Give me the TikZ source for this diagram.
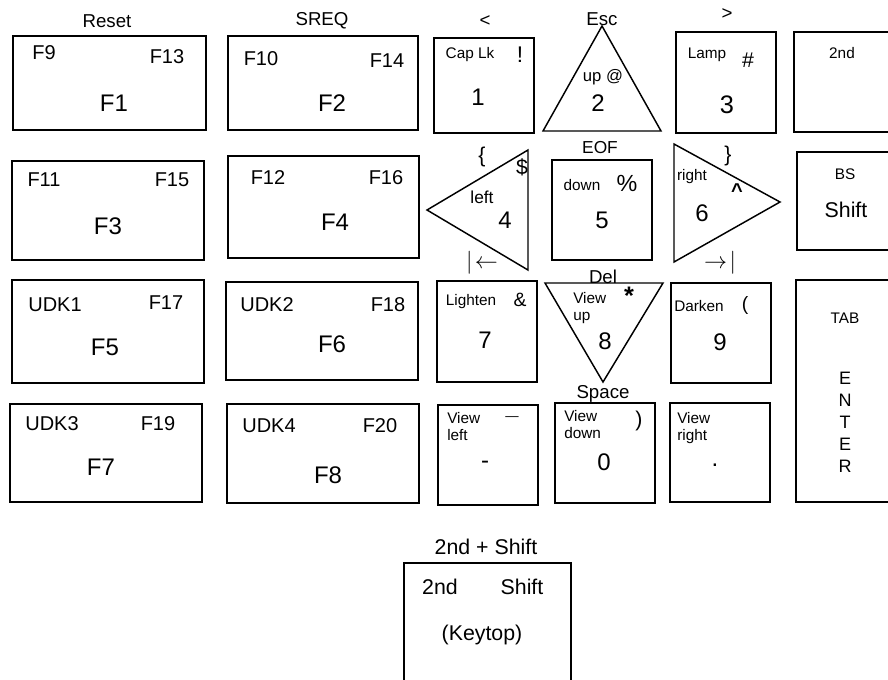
\documentclass[tikz,border=0pt]{standalone}
\usepackage{fontspec}
\setmainfont{Liberation Sans}
\usepackage{tikz}
\usetikzlibrary{fit}

\newcommand{\fsz}[1]{\fontsize{#1}{#1}\selectfont}

\begin{document}
\begin{tikzpicture}[
    x=0.75pt, y=-0.75pt,
    keybox/.style={
        draw,
        line width=1.1pt,
        inner sep=0pt
    },
    tri/.style={
        draw,
        line width=1.1pt
    },
    hint/.style={inner sep=0pt, font=\fsz{14}},
    flbl/.style={inner sep=0pt, font=\fsz{15}},
    keylbl/.style={inner sep=0pt, font=\fsz{18}},
    sublbl/.style={inner sep=0pt, font=\fsz{11.5}},
    symlbl/.style={inner sep=0pt, font=\fsz{16}},
    comblbl/.style={inner sep=0pt, font=\fsz{16}},
    enterlbl/.style={inner sep=0pt, font=\fsz{13.5}},
    twolbl/.style={
        inner sep=0pt,
        anchor=west,
        align=left,
        font=\fontsize{11.5}{12.75}\selectfont
    }
]

\clip (0,0) rectangle (888,679);

\node[keybox, fit={(13,36) (206,130)}] (f1) {};
\node[keybox, fit={(228,36) (418,130)}] (f2) {};
\node[keybox, fit={(12,161) (204,260)}] (f3) {};
\node[keybox, fit={(228,156) (419,258)}] (f4) {};
\node[keybox, fit={(12,280) (204,383)}] (f5) {};
\node[keybox, fit={(226,282) (418,380)}] (f6) {};
\node[keybox, fit={(10,404) (202,502)}] (f7) {};
\node[keybox, fit={(227,404) (419,503)}] (f8) {};

\node[keybox, fit={(434,38) (534,133)}] (k1) {};
\node[keybox, fit={(676,32) (776,133)}] (k3) {};
\node[keybox, fit={(794,32) (900,132)}] (ksecond) {};
\node[keybox, fit={(552,160) (652,260)}] (k5) {};
\node[keybox, fit={(797,152) (900,250)}] (kshift) {};
\node[keybox, fit={(437,281) (537,382)}] (k7) {};
\node[keybox, fit={(671,283) (771,383)}] (k9) {};
\node[keybox, fit={(796,280) (900,502)}] (kenter) {};
\node[keybox, fit={(438,405) (538,505)}] (kminus) {};
\node[keybox, fit={(555,403) (655,503)}] (k0) {};
\node[keybox, fit={(670,403) (770,502)}] (kdot) {};
\node[keybox, fit={(404,563) (571,700)}] (kcomb) {};

\draw[tri] (602,26) -- (543,131) -- (661,131) -- cycle;
\draw[tri] (427,210) -- (528,150) -- (528,270) -- cycle;
\draw[tri] (674,144) -- (780,202) -- (674,262) -- cycle;
\draw[tri] (545,283) -- (663,283) -- (603,382) -- cycle;

\node[hint] (reset) at (107,21) {Reset};
\node[hint] (sreq) at (322,21) {SREQ};
\node[flbl] (f9) at (44,53) {F9};
\node[flbl] (f13) at (167,57) {F13};
\node[keylbl] (f1lbl) at (114,103) {F1};
\node[flbl] (f10) at (261,59) {F10};
\node[flbl] (f14) at (387,61) {F14};
\node[keylbl] (f2lbl) at (332,103) {F2};

\node[flbl] (f11) at (44,180) {F11};
\node[flbl] (f15) at (172,180) {F15};
\node[keylbl] (f3lbl) at (108,226) {F3};
\node[flbl] (f12) at (268,178) {F12};
\node[flbl] (f16) at (386,178) {F16};
\node[keylbl] (f4lbl) at (335,222) {F4};

\node[flbl] (udk1) at (55,305) {UDK1};
\node[flbl] (f17) at (166,303) {F17};
\node[keylbl] (f5lbl) at (105,347) {F5};
\node[flbl] (udk2) at (267,305) {UDK2};
\node[flbl] (f18) at (388,305) {F18};
\node[keylbl] (f6lbl) at (332,344) {F6};

\node[flbl] (udk3) at (52,424) {UDK3};
\node[flbl] (f19) at (158,424) {F19};
\node[keylbl] (f7lbl) at (101,467) {F7};
\node[flbl] (udk4) at (269,426) {UDK4};
\node[flbl] (f20) at (380,426) {F20};
\node[keylbl] (f8lbl) at (328,475) {F8};

\node[hint] (less) at (485,21) {<};
\node[sublbl] (caplk) at (470,55) {Cap Lk};
\node[symlbl, font=\fsz{17}] (excl) at (520,55) {!};
\node[keylbl] (one) at (478,97) {1};
\node[hint] (esc) at (602,19) {Esc};
\node[inner sep=0pt, font=\fsz{12.5}] (upat) at (603,77) {up @};
\node[keylbl] (two) at (598,103) {2};
\node[hint] (greater) at (727,14) {>};
\node[sublbl] (lamp) at (707,55) {Lamp};
\node[symlbl] (hash) at (748,60) {\#};
\node[keylbl, font=\fsz{19}] (three) at (727,105) {3};
\node[sublbl] (second) at (842,53) {2nd};

\node[symlbl] (lbrace) at (482,157) {\{};
\node[symlbl] (dollar) at (522,167) {\$};
\node[inner sep=0pt, font=\fsz{13}] (left) at (482,197) {left};
\node[keylbl] (four) at (505,220) {4};
\node[inner sep=0pt, font=\fsz{16}] (home) at (482,263) {$\vert\!\leftarrow$};
\node[inner sep=0pt, font=\fsz{13}] (eof) at (600,148) {EOF};
\node[sublbl] (down) at (582,185) {down};
\node[symlbl, font=\fsz{17.5}] (pct) at (627,183) {\%};
\node[keylbl] (five) at (602,220) {5};
\node[symlbl] (rbrace) at (728,156) {\}};
\node[sublbl] (right) at (692,177) {right};
\node[inner sep=0pt, font=\fsz{15}\bfseries] (caret) at (737,191) {\textasciicircum};
\node[keylbl] (six) at (702,213) {6};
\node[inner sep=0pt, font=\fsz{16}] (end) at (720,263) {$\rightarrow\!\vert$};
\node[sublbl] (bs) at (845,174) {BS};
\node[comblbl] (shift) at (846,210) {Shift};

\node[sublbl] (lighten) at (471,302) {Lighten};
\node[symlbl, font=\fsz{14.5}] (amp) at (520,300) {\&};
\node[keylbl] (seven) at (485,340) {7};
\node[hint] (del) at (603,277) {Del};
\node[twolbl] (viewup) at (573,308) {View\\up};
\node[symlbl, font=\fsz{19}\bfseries] (star) at (629,296) {*};
\node[keylbl] (eight) at (605,341) {8};
\node[sublbl] (darken) at (699,306) {Darken};
\node[symlbl, font=\fsz{14.5}] (lparen) at (745,305) {(};
\node[keylbl] (nine) at (720,342) {9};
\node[sublbl] (tab) at (845,318) {TAB};
\foreach \ch [count=\i from 0] in {E,N,T,E,R}
    \node[enterlbl] (enter\i) at (845,378+22*\i) {\ch};

\node[twolbl] (viewleft) at (447,426.5) {View\\left};
\node[inner sep=0pt, font=\fsz{10}] (dash) at (512,419) {\textemdash};
\node[keylbl] (minus) at (485,465) {-};
\node[hint] (space) at (603,394) {Space};
\node[twolbl] (viewdown) at (564,424.5) {View\\down};
\node[symlbl] (rparen) at (639,421) {)};
\node[keylbl] (zero) at (604,462) {0};
\node[twolbl] (viewright) at (677,428) {View\\right};
\node[keylbl] (dot) at (715,465) {.};

\node[comblbl] (combo) at (486,547) {2nd + Shift};
\node[comblbl] (cmbsecond) at (440,587) {2nd};
\node[comblbl] (cmbshift) at (522,587) {Shift};
\node[comblbl] (keytop) at (482,635) {(Keytop)};

\end{tikzpicture}
\end{document}
